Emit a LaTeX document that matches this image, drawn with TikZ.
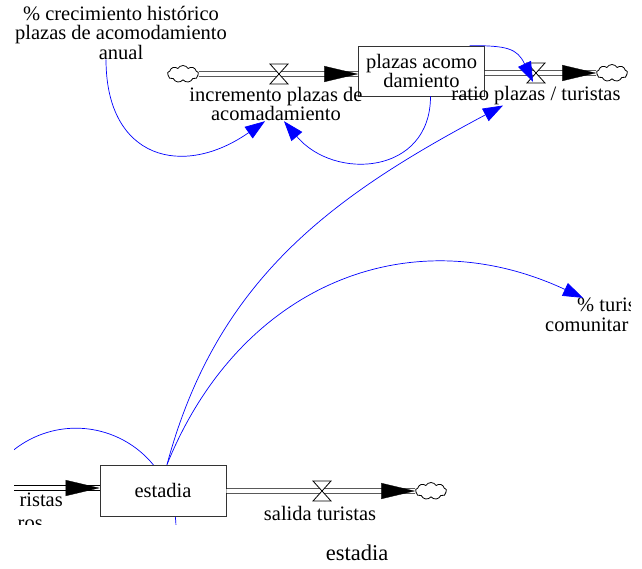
\documentclass[tikz,border=0pt]{standalone}
\usepackage{fontspec}
\setmainfont{Liberation Serif}
\usetikzlibrary{shapes.symbols,arrows.meta}

\tikzset{
  stock/.style={draw=black!80, fill=white, line width=0.8pt, inner sep=0pt, align=center},
  lbl/.style={inner sep=0pt, align=center},
  pipe/.style={draw=black, double=white, double distance=3.6pt, line width=0.8pt},
  pipehead/.style={white, line width=0.3pt, -{Triangle[length=34pt,width=16pt,color=black]}},
  source/.style={cloud, cloud puffs=9, cloud puff arc=120, aspect=1.9, draw, fill=white,
    line width=0.8pt, inner sep=0pt, minimum width=31pt, minimum height=17pt},
  link/.style={draw=blue, line width=0.7pt, -{Triangle[length=20pt,width=14pt]}},
}

\newcommand{\flowvalve}[3]{%
  \coordinate (#1) at (#2,#3);
  \filldraw[fill=white, line width=0.8pt, shift={(#1)}] (-9,10) -- (9,10) -- (-9,-10) -- (9,-10) -- cycle;
}

\begin{document}
\begin{tikzpicture}[x=1pt, y=1pt, font=\fontsize{20.5}{18.5}\selectfont]
      \useasboundingbox (0,0) rectangle (642,-568);

      \begin{scope}
      \clip (14,0) rectangle (630,-524);

      % loop round estadia
      \coordinate (loopstart) at (-18,-494);
      \draw[draw=blue, line width=0.7pt] (loopstart) arc[start angle=160, end angle=-20, radius=100];

      % stocks
      \node[stock, minimum width=126pt, minimum height=50pt] (plazas) at (421.5,-71) {plazas acomo\\damiento};
      \node[stock, minimum width=126pt, minimum height=51pt] (estadia) at (163,-490.5) {estadia};

      % clouds
      \node[source] (cloud1) at (183,-74) {};
      \node[source] (cloud2) at (612,-73) {};
      \node[source] (cloud3) at (431,-491) {};
      \coordinate (srcL) at (0,-488);

      % labels
      \node[lbl] (crec) at (121,-33) {\% crecimiento histórico\\plazas de acomodamiento\\anual};
      \node[lbl] (incr) at (276,-104) {incremento plazas de\\acomadamiento};
      \node[lbl] (ratio) at (536,-96) {ratio plazas / turistas};
      \node[lbl] (salida) at (320,-513) {salida turistas};
      \node[lbl, anchor=east] (llegA) at (63,-500) {ristas};
      \node[lbl, anchor=east] (llegB) at (43,-525) {ros};
      \node[lbl, anchor=west] (turisA) at (577,-305) {\% turis};
      \node[lbl, anchor=west] (turisB) at (545,-325) {comunitar};

      % pipes
      \coordinate (in1) at (cloud1 -| plazas.west);
      \coordinate (out1) at (cloud2 -| plazas.east);
      \coordinate (in2) at (srcL -| estadia.west);
      \coordinate (out2) at (cloud3 -| estadia.east);
      \draw[pipe] (cloud1.east) -- (in1);
      \draw[pipe] (out1) -- (cloud2.west);
      \draw[pipe] (srcL) -- (in2);
      \draw[pipe] (out2) -- (cloud3.west);

      % valves
      \flowvalve{v1}{279}{-74}
      \flowvalve{v2}{536}{-73}
      \flowvalve{v3}{322}{-491}

      % arrowheads of the flows
      \draw[pipehead] ([xshift=-40pt]in1) -- (in1);
      \draw[pipehead] ([xshift=-40pt]cloud2.west) -- (cloud2.west);
      \draw[pipehead] ([xshift=-40pt]in2) -- (in2);
      \draw[pipehead] ([xshift=-40pt]cloud3.west) -- (cloud3.west);

      % links
      \draw[link] ([xshift=-15pt]crec.south) to[out=-90, in=215, looseness=1.5] ([xshift=-11pt]incr.south);
      \draw[link] ([xshift=9pt]plazas.south) to[out=-90, in=-50, looseness=1.35] ([xshift=8pt]incr.south);
      \draw[link] ([xshift=48pt]plazas.north) to[out=0, in=115, looseness=1.3] ([shift={(-3pt,-9pt)}]v2);
      \draw[link] ([xshift=4pt]estadia.north) to[out=75, in=208] ([xshift=-33pt]ratio.south);
      \draw[link] ([xshift=4pt]estadia.north) to[out=68, in=155, looseness=1.1] ([xshift=6pt]turisA.north west);
      \end{scope}

      \node[lbl, font=\fontsize{22.5}{24}\selectfont] (caption) at (357,-553) {estadia};
\end{tikzpicture}
\end{document}
